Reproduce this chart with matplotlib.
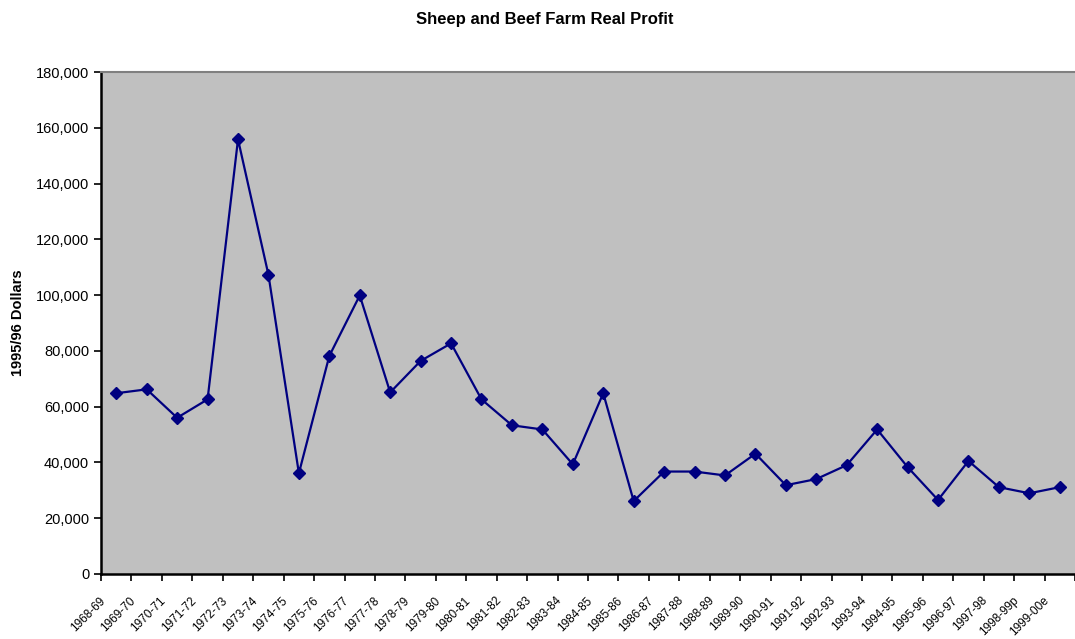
import numpy as np
import matplotlib.pyplot as plt
import matplotlib.transforms as mtransforms
from matplotlib.ticker import FuncFormatter, FixedLocator

seasons = ["1968-69", "1969-70", "1970-71", "1971-72", "1972-73", "1973-74",
           "1974-75", "1975-76", "1976-77", "1977-78", "1978-79", "1979-80",
           "1980-81", "1981-82", "1982-83", "1983-84", "1984-85", "1985-86",
           "1986-87", "1987-88", "1988-89", "1989-90", "1990-91", "1991-92",
           "1992-93", "1993-94", "1994-95", "1995-96", "1996-97", "1997-98",
           "1998-99p", "1999-00e"]
profit = [64800, 66200, 56000, 62600, 155900, 107300, 36100, 78200, 99900,
          65100, 76400, 82700, 62600, 53300, 51800, 39300, 64800, 26100,
          36700, 36700, 35300, 43100, 31800, 34000, 39000, 51800, 38300,
          26500, 40500, 31100, 28900, 31100]
y_ticks = list(range(0, 180001, 20000))

plt.rcParams['font.family'] = ['Liberation Sans', 'DejaVu Sans']

fig = plt.figure(figsize=(10.75, 6.39), dpi=100)
ax = fig.add_axes([0.094, 0.102, 0.906, 0.785])
ax.set_facecolor("#C0C0C0")

x = np.arange(len(seasons))
ax.plot(x, profit, color="#000080", lw=1.6, marker="D", markersize=6)

ax.set_xlim(-0.5, len(seasons) - 0.5)
ax.set_ylim(0, 180000)
ax.set_yticks(y_ticks)
ax.yaxis.set_major_formatter(FuncFormatter(lambda v, p: f"{int(v):,}"))
ax.tick_params(axis="y", labelsize=10.5, length=5, width=1.2, direction="out")

# ticks between categories, labels at category centres
ax.xaxis.set_major_locator(FixedLocator(np.arange(len(seasons) + 1) - 0.5))
ax.xaxis.set_major_formatter(FuncFormatter(lambda v, p: ""))
ax.xaxis.set_minor_locator(FixedLocator(x))
ax.set_xticklabels(seasons, minor=True)
ax.tick_params(axis="x", which="major", length=5, width=1.2, direction="out")
ax.tick_params(axis="x", which="minor", length=0, pad=18)
offset = mtransforms.ScaledTranslation(-13 / 100, 0, fig.dpi_scale_trans)
for lbl in ax.get_xticklabels(minor=True):
    lbl.set_rotation(45)
    lbl.set_ha("right")
    lbl.set_va("center")
    lbl.set_rotation_mode("anchor")
    lbl.set_fontsize(8.5)
    lbl.set_transform(lbl.get_transform() + offset)

for side in ["left", "bottom"]:
    ax.spines[side].set_linewidth(1.8)
    ax.spines[side].set_color("black")
ax.spines["top"].set_color("#808080")
ax.spines["top"].set_linewidth(1.5)
ax.spines["right"].set_visible(False)

ax.set_ylabel("1995/96 Dollars", fontsize=10.5, fontweight="bold", labelpad=8)
fig.suptitle("Sheep and Beef Farm Real Profit", fontsize=12, fontweight="bold",
             x=0.507, y=0.982)

fig.savefig("out.png", dpi=100, facecolor="white")
